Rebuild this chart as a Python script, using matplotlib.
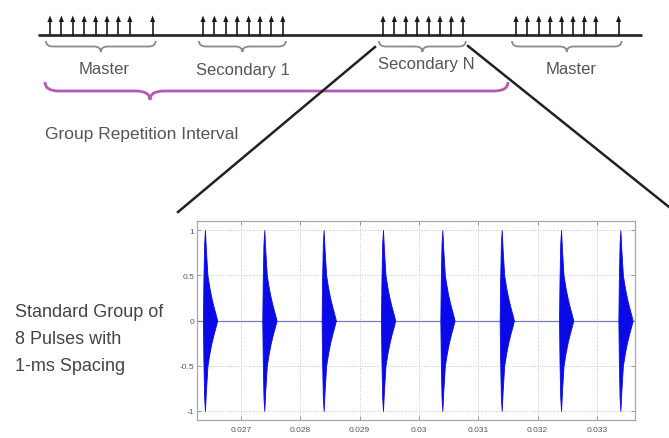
import numpy as np
import matplotlib
matplotlib.use("Agg")
import matplotlib.pyplot as plt
from matplotlib.path import Path
from matplotlib.patches import PathPatch, Polygon

plt.rcParams['font.family'] = ['Liberation Sans', 'DejaVu Sans']

# ---------------- data ----------------
pulse_starts = [0.02636, 0.02736, 0.02836, 0.02936, 0.03036, 0.03136, 0.03236, 0.03336]  # s
env_dt_us = [0, 8, 20, 34, 50, 76, 110, 143, 180, 205, 225, 240]
env_amp = [0.0, 0.45, 0.85, 1.0, 0.78, 0.5, 0.36, 0.25, 0.15, 0.09, 0.04, 0.0]

xticks = [0.027, 0.028, 0.029, 0.030, 0.031, 0.032, 0.033]
xtick_labels = ['0.027', '0.028', '0.029', '0.03', '0.031', '0.032', '0.033']
yticks = [-1, -0.5, 0, 0.5, 1]
ytick_labels = ['-1', '-0.5', '0', '0.5', '1']

group_labels = ['Master', 'Secondary 1', 'Secondary N', 'Master']
group_slots = [[0, 1, 2, 3, 4, 5, 6, 7, 9],
               [0, 1, 2, 3, 4, 5, 6, 7],
               [0, 1, 2, 3, 4, 5, 6, 7],
               [0, 1, 2, 3, 4, 5, 6, 7, 9]]
gri_label = 'Group Repetition Interval'
side_text = ['Standard Group of', '8 Pulses with', '1-ms Spacing']

# ---------------- layout ----------------
W, H = 669, 439
fig = plt.figure(figsize=(W / 100, H / 100), dpi=100)

ov = fig.add_axes([0, 0, 1, 1])
ov.set_xlim(0, W)
ov.set_ylim(H, 0)
ov.axis('off')

group_x0 = [50, 203, 383, 516]
slot_dx = 11.4
line_y = 36
label_pos = [(104, 70), (243, 70), (426, 65), (571, 69)]
text_col = '#555555'

# timeline
ov.plot([38, 642], [line_y, line_y], color='#2b2b2b', lw=2.0, solid_capstyle='butt')


def brace(ax, x0, x1, y0, h, r, xm=None, **kw):
    if xm is None:
        xm = (x0 + x1) / 2
    q = y0 + h * 0.5
    verts = [(x0, y0), (x0, q), (x0 + r, q),
             (xm - r, q),
             (xm, q), (xm, y0 + h),
             (xm, q), (xm + r, q),
             (x1 - r, q),
             (x1, q), (x1, y0)]
    codes = [Path.MOVETO, Path.CURVE3, Path.CURVE3,
             Path.LINETO,
             Path.CURVE3, Path.CURVE3,
             Path.CURVE3, Path.CURVE3,
             Path.LINETO,
             Path.CURVE3, Path.CURVE3]
    ax.add_patch(PathPatch(Path(verts, codes), fill=False, **kw))


for gi, (lab, slots) in enumerate(zip(group_labels, group_slots)):
    xs = [group_x0[gi] + s * slot_dx for s in slots]
    for x in xs:
        ov.plot([x, x], [line_y, 21], color='#1a1a1a', lw=1.2)
        ov.add_patch(Polygon([[x - 2.6, 23], [x + 2.6, 23], [x, 16.5]],
                             closed=True, color='#1a1a1a', lw=0))
    bx0, bx1 = xs[0] - 4, xs[-1] + 3
    brace(ov, bx0, bx1, 42, 11, 7, color='#8a8a8a', lw=1.3)
    lx, ly = label_pos[gi]
    ov.text(lx, ly, lab, ha='center', va='center', fontsize=12, color=text_col)

# group repetition interval brace
brace(ov, 45, 508, 83, 18, 14, xm=150, color='#b857b8', lw=2.0)
ov.text(45, 135, gri_label, ha='left', va='center', fontsize=12.5, color=text_col)

# zoom lines
ov.plot([375, 178], [48, 213], color='#222222', lw=1.8)
ov.plot([468, 669], [47, 208], color='#222222', lw=1.8)

# side text
for i, t in enumerate(side_text):
    ov.text(15, 313 + 27 * i, t, ha='left', va='center', fontsize=13, color='#444444')

# ---------------- waveform axes ----------------
ax = fig.add_axes([197 / W, 1 - 421 / H, (635 - 197) / W, (421 - 222) / H])
ax.set_xlim(0.02626, 0.03364)
ax.set_ylim(-1.1, 1.1)

ax.axhline(0, color='#7a7ab8', lw=0.9, zorder=2)
dt = np.array(env_dt_us) * 1e-6
env = np.array(env_amp)
for t0 in pulse_starts:
    ax.fill_between(t0 + dt, -env, env, color='#0a0ae6', lw=0.6, edgecolor='#0a0ae6', zorder=3)

ax.set_xticks(xticks)
ax.set_xticklabels(xtick_labels)
ax.set_yticks(yticks)
ax.set_yticklabels(ytick_labels)
ax.grid(True, linestyle=':', color='#c4c4c4', lw=0.7)
ax.tick_params(direction='in', length=3, width=0.6, colors='#888888', labelcolor='#555555',
               labelsize=6, top=True, right=True, pad=4)
ax.tick_params(axis='y', pad=2)
for s in ax.spines.values():
    s.set_color('#a8a8a8')
    s.set_linewidth(0.9)

fig.savefig('out.png', dpi=100)
